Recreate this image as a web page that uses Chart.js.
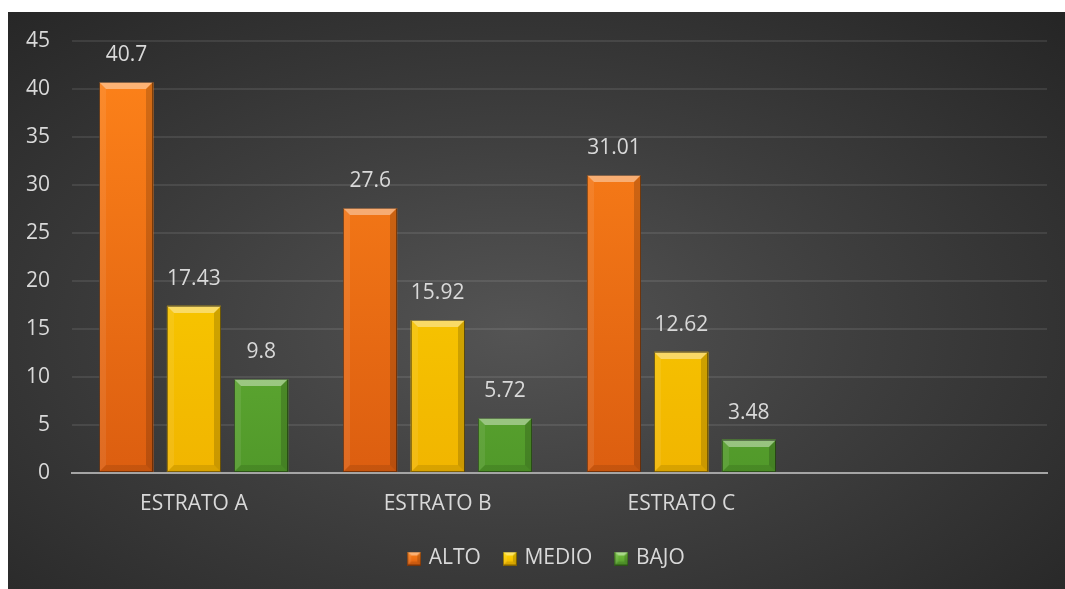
<!DOCTYPE html>
<html>
<head>
<meta charset="utf-8">
<script src="https://cdn.jsdelivr.net/npm/chart.js@4.4.1/dist/chart.umd.min.js"></script>
<style>
  html, body { margin: 0; padding: 0; background: #fff; }
  #wrap {
    position: absolute; left: 8px; top: 12px; width: 1057px; height: 577px;
    background: radial-gradient(ellipse farthest-corner at 48% 55%, #545454 0%, #3e3e3e 45%, #252525 100%);
  }
</style>
</head>
<body>
<div id="wrap"><canvas id="chart" width="1057" height="577"></canvas></div>
<script>
// categories (the fourth slot is left empty on purpose)
const categories = ['ESTRATO A', 'ESTRATO B', 'ESTRATO C', ''];
const alto  = [40.7, 27.6, 31.01];
const medio = [17.43, 15.92, 12.62];
const bajo  = [9.8, 5.72, 3.48];
const yTicks = [0, 5, 10, 15, 20, 25, 30, 35, 40, 45];

const TEXT = '#d9d9d9';
const FONT = '"Open Sans", sans-serif';
const SIZE = 21;

// top/bottom colours for each series
const palette = {
  ALTO:  ['#ff841a', '#dc5e10'],
  MEDIO: ['#ffda00', '#f1b500'],
  BAJO:  ['#78c640', '#51992a']
};

function barGradient(name) {
  return (ctx) => {
    const area = ctx.chart.chartArea;
    if (!area) return palette[name][0];
    const g = ctx.chart.ctx.createLinearGradient(0, area.top, 0, area.bottom);
    g.addColorStop(0, palette[name][0]);
    g.addColorStop(1, palette[name][1]);
    return g;
  };
}

// draws the bevelled edges on a rectangle
function bevel(c, l, t, r, b, s) {
  c.save();
  c.fillStyle = 'rgba(255,255,255,0.4)';
  c.beginPath(); c.moveTo(l, t); c.lineTo(r, t); c.lineTo(r - s, t + s); c.lineTo(l + s, t + s); c.closePath(); c.fill();
  c.fillStyle = 'rgba(255,255,255,0.08)';
  c.beginPath(); c.moveTo(l, t); c.lineTo(l + s, t + s); c.lineTo(l + s, b - s); c.lineTo(l, b); c.closePath(); c.fill();
  c.fillStyle = 'rgba(0,0,0,0.16)';
  c.beginPath(); c.moveTo(r, t); c.lineTo(r, b); c.lineTo(r - s, b - s); c.lineTo(r - s, t + s); c.closePath(); c.fill();
  c.fillStyle = 'rgba(0,0,0,0.1)';
  c.beginPath(); c.moveTo(l, b); c.lineTo(r, b); c.lineTo(r - s, b - s); c.lineTo(l + s, b - s); c.closePath(); c.fill();
  c.strokeStyle = 'rgba(0,0,0,0.4)';
  c.lineWidth = 1;
  c.strokeRect(l + 0.5, t + 0.5, r - l - 1, b - t - 1);
  c.restore();
}

function legendBox(name) {
  const cv = document.createElement('canvas');
  cv.width = 14; cv.height = 14;
  const c = cv.getContext('2d');
  const g = c.createLinearGradient(0, 0, 0, 14);
  g.addColorStop(0, palette[name][0]);
  g.addColorStop(1, palette[name][1]);
  c.fillStyle = g;
  c.fillRect(0, 0, 14, 14);
  bevel(c, 0, 0, 14, 14, 4);
  return cv;
}

const bevelPlugin = {
  id: 'bevelBars',
  afterDatasetsDraw(chart) {
    const c = chart.ctx;
    chart.data.datasets.forEach((ds, i) => {
      chart.getDatasetMeta(i).data.forEach((bar) => {
        const p = bar.getProps(['x', 'y', 'base', 'width'], true);
        const l = Math.round(p.x - p.width / 2), r = Math.round(p.x + p.width / 2);
        bevel(c, l, Math.round(p.y), r, Math.round(p.base), 7);
      });
    });
  }
};

const valueLabels = {
  id: 'valueLabels',
  afterDatasetsDraw(chart) {
    const c = chart.ctx;
    c.save();
    c.font = SIZE + 'px ' + FONT;
    c.fillStyle = TEXT;
    c.textAlign = 'center';
    c.textBaseline = 'middle';
    chart.data.datasets.forEach((ds, i) => {
      chart.getDatasetMeta(i).data.forEach((bar, j) => {
        c.fillText(String(ds.data[j]), bar.x, bar.y - 27);
      });
    });
    c.restore();
  }
};

// nudge the legend a little to the right of the canvas centre
const legendShift = {
  id: 'legendShift',
  afterLayout(chart) {
    if (chart.legend) {
      chart.legend.left += 20;
      chart.legend.right += 20;
    }
  }
};

const series = [['ALTO', alto], ['MEDIO', medio], ['BAJO', bajo]];

new Chart(document.getElementById('chart'), {
  type: 'bar',
  data: {
    labels: categories,
    datasets: series.map(([name, values]) => ({
      label: name,
      data: values,
      backgroundColor: barGradient(name),
      borderWidth: 0,
      pointStyle: legendBox(name),
      categoryPercentage: 0.83,
      barPercentage: 0.8
    }))
  },
  options: {
    responsive: false,
    animation: false,
    layout: { padding: { top: 29, right: 18, bottom: 10, left: 0 } },
    plugins: {
      tooltip: { enabled: false },
      legend: {
        position: 'bottom',
        labels: {
          color: TEXT,
          font: { family: FONT, size: SIZE },
          usePointStyle: true,
          pointStyleWidth: 8,
          boxWidth: 14,
          boxHeight: 14,
          padding: 25
        }
      }
    },
    scales: {
      x: {
        grid: { display: false, drawTicks: false },
        border: { color: '#a5a5a5', width: 2 },
        ticks: { color: TEXT, font: { family: FONT, size: SIZE }, padding: 18 },
        afterFit: (s) => { s.height = 50; }
      },
      y: {
        min: 0,
        max: 45,
        afterBuildTicks: (s) => { s.ticks = yTicks.map(v => ({ value: v })); },
        grid: { color: 'rgba(255,255,255,0.09)', lineWidth: 2, drawTicks: false },
        border: { display: false },
        ticks: { color: TEXT, font: { family: FONT, size: SIZE }, padding: 22 },
        afterFit: (s) => {
          s.width = 64;
          s.paddingTop = 0;
          s.paddingBottom = 0;
        }
      }
    }
  },
  plugins: [bevelPlugin, valueLabels, legendShift]
});
</script>
</body>
</html>
